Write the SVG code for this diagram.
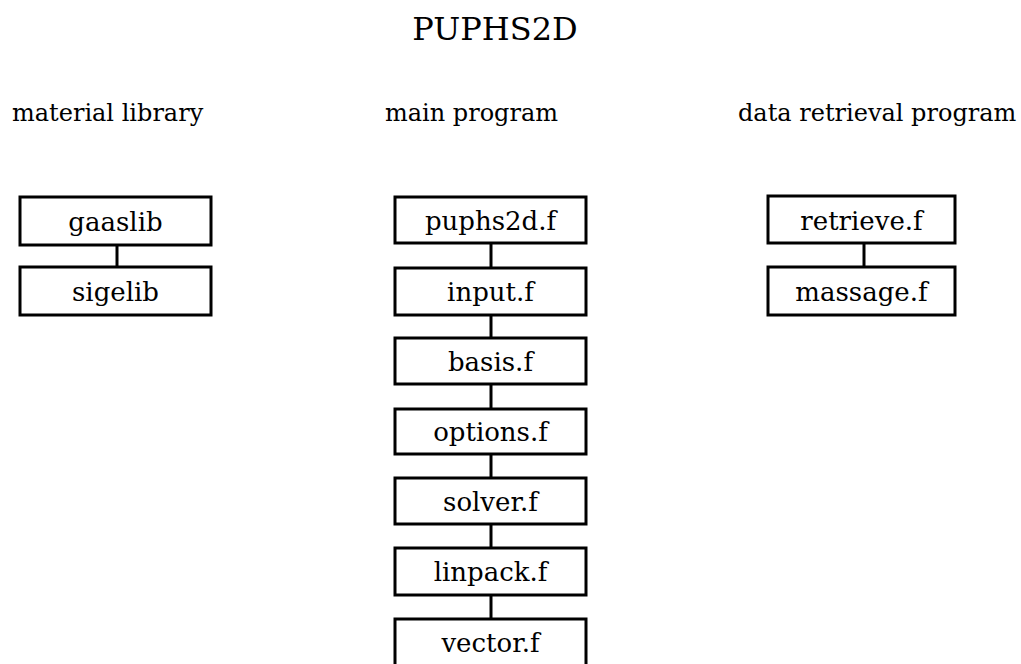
<svg xmlns="http://www.w3.org/2000/svg" width="1021" height="664" viewBox="0 0 1021 664">
<style>
.box{fill:#fff;stroke:#000;stroke-width:3}
.lbl{font-family:"DejaVu Serif","Liberation Serif",serif;font-size:26px;text-anchor:middle;fill:#000}
.hd{font-family:"DejaVu Serif","Liberation Serif",serif;font-size:24px;fill:#000}
.ttl{font-family:"DejaVu Serif","Liberation Serif",serif;font-size:32px;text-anchor:middle;fill:#000}
.con{stroke:#000;stroke-width:3;fill:none}
</style>
<rect width="1021" height="664" fill="#fff"/>
<text class="ttl" x="495" y="40">PUPHS2D</text>
<text class="hd" x="12" y="121">material library</text>
<text class="hd" x="385" y="121">main program</text>
<text class="hd" x="738" y="121">data retrieval program</text>
<g id="connectors">
<line class="con" x1="117" y1="245" x2="117" y2="267"/>
<line class="con" x1="491" y1="243" x2="491" y2="268"/>
<line class="con" x1="491" y1="315" x2="491" y2="338"/>
<line class="con" x1="491" y1="384" x2="491" y2="409"/>
<line class="con" x1="491" y1="454" x2="491" y2="478"/>
<line class="con" x1="491" y1="524" x2="491" y2="548"/>
<line class="con" x1="491" y1="595" x2="491" y2="619"/>
<line class="con" x1="864" y1="243" x2="864" y2="267"/>
</g>
<g id="gaaslib"><rect class="box" x="20" y="197" width="191" height="48"/><text class="lbl" x="115.5" y="231">gaaslib</text></g>
<g id="sigelib"><rect class="box" x="20" y="267" width="191" height="48"/><text class="lbl" x="115.5" y="301">sigelib</text></g>
<g id="puphs2d"><rect class="box" x="395" y="197" width="191" height="46"/><text class="lbl" x="490.5" y="230">puphs2d.f</text></g>
<g id="input"><rect class="box" x="395" y="268" width="191" height="47"/><text class="lbl" x="490.5" y="301">input.f</text></g>
<g id="basis"><rect class="box" x="395" y="338" width="191" height="46"/><text class="lbl" x="490.5" y="371">basis.f</text></g>
<g id="options"><rect class="box" x="395" y="409" width="191" height="45"/><text class="lbl" x="490.5" y="441">options.f</text></g>
<g id="solver"><rect class="box" x="395" y="478" width="191" height="46"/><text class="lbl" x="490.5" y="511">solver.f</text></g>
<g id="linpack"><rect class="box" x="395" y="548" width="191" height="47"/><text class="lbl" x="490.5" y="581">linpack.f</text></g>
<g id="vector"><rect class="box" x="395" y="619" width="191" height="48"/><text class="lbl" x="490.5" y="652">vector.f</text></g>
<g id="retrieve"><rect class="box" x="768" y="196" width="187" height="47"/><text class="lbl" x="861.5" y="230">retrieve.f</text></g>
<g id="massage"><rect class="box" x="768" y="267" width="187" height="48"/><text class="lbl" x="861.5" y="301">massage.f</text></g>
</svg>
